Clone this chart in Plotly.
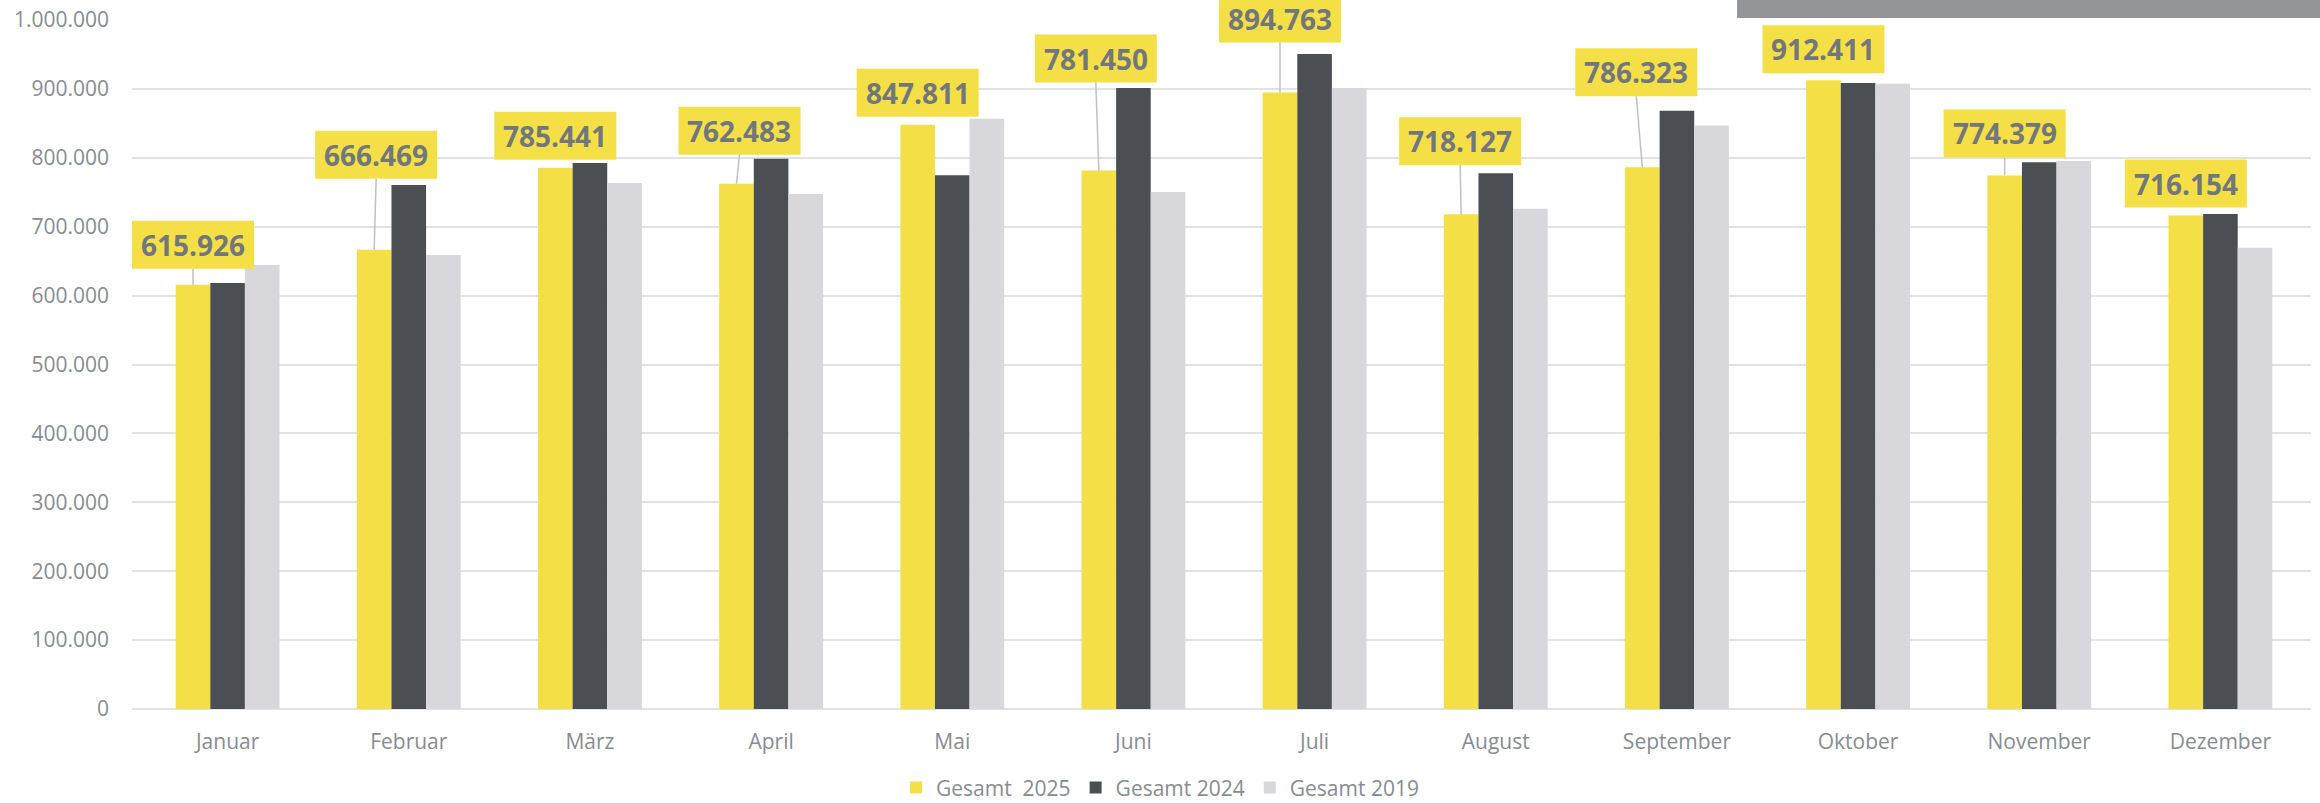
import plotly.graph_objects as go

months = ["Januar", "Februar", "März", "April", "Mai", "Juni", "Juli",
          "August", "September", "Oktober", "November", "Dezember"]
gesamt_2025 = [615926, 666469, 785441, 762483, 847811, 781450, 894763,
               718127, 786323, 912411, 774379, 716154]
gesamt_2024 = [618300, 760500, 792500, 798700, 774600, 901300, 950600,
               777500, 868400, 908600, 793400, 718400]
gesamt_2019 = [644400, 658900, 763400, 747500, 856800, 750400, 901300,
               726200, 846800, 907500, 795400, 669500]
labels_2025 = ["615.926", "666.469", "785.441", "762.483", "847.811", "781.450",
               "894.763", "718.127", "786.323", "912.411", "774.379", "716.154"]
y_ticks = [0, 100000, 200000, 300000, 400000, 500000, 600000, 700000,
           800000, 900000, 1000000]
y_tick_text = ["0", "100.000", "200.000", "300.000", "400.000", "500.000",
               "600.000", "700.000", "800.000", "900.000", "1.000.000"]
series_names = ["Gesamt \u00a02025", "Gesamt 2024", "Gesamt 2019"]

# label offsets (pixels, screen: +x right, +y down) from bar top to label centre
label_dx = [0, 2, 0, 3, 0, -3, 0, -1, -6, 0, 0, 0]
label_dy = [-40, -95, -32, -53, -32, -112, -74, -73, -95, -31, -42, -32]
leader = [True, True, False, True, False, True, True, True, True, False, True, False]

YELLOW = "#F4E046"
DARK = "#4B4F53"
LIGHT = "#D8D7DB"
TEXT_GREY = "#878C92"
LABEL_GREY = "#71777D"
FONT = "Open Sans"
BOX_W, BOX_H = 122, 48
Y_MAX = 1000000

BARGAP = 0.427

fig = go.Figure()
for name, vals, col in zip(series_names, [gesamt_2025, gesamt_2024, gesamt_2019],
                           [YELLOW, DARK, LIGHT]):
    fig.add_trace(go.Bar(x=months, y=vals, name=name, marker_color=col,
                         marker_line_width=0))

bar_w = (1 - BARGAP) / 3
# leader lines (y anchored in paper space so they are not clipped at the top)
for i, v in enumerate(gesamt_2025):
    if leader[i]:
        fig.add_shape(type="line", xref="x", yref="paper",
                      xsizemode="pixel", ysizemode="pixel",
                      xanchor=i - bar_w, yanchor=v / Y_MAX,
                      x0=0, y0=0, x1=label_dx[i], y1=-label_dy[i] - BOX_H / 2,
                      line=dict(color="#BFC1C4", width=1.5), layer="above")
# label boxes
for i, v in enumerate(gesamt_2025):
    fig.add_shape(type="rect", xref="x", yref="paper",
                  xsizemode="pixel", ysizemode="pixel",
                  xanchor=i - bar_w, yanchor=v / Y_MAX,
                  x0=label_dx[i] - BOX_W / 2, x1=label_dx[i] + BOX_W / 2,
                  y0=-label_dy[i] - BOX_H / 2, y1=-label_dy[i] + BOX_H / 2,
                  fillcolor=YELLOW, line_width=0, layer="above")
# label texts
for i, (v, lab) in enumerate(zip(gesamt_2025, labels_2025)):
    fig.add_annotation(
        x=i - bar_w, y=v, xref="x", yref="y",
        text=f"<b>{lab}</b>", showarrow=False,
        xanchor="center", yanchor="middle",
        xshift=label_dx[i], yshift=-label_dy[i],
        font=dict(family=FONT, size=28, color=LABEL_GREY),
    )

# grey strip at the top right
fig.add_shape(type="rect", xref="paper", yref="paper",
              x0=0.7366, x1=1.01, y0=1.0029, y1=1.04,
              fillcolor="#939598", line_width=0, layer="above")

fig.update_layout(
    width=2320, height=803,
    barmode="group", bargap=BARGAP, bargroupgap=0,
    plot_bgcolor="white", paper_bgcolor="white",
    margin=dict(l=132, r=9, t=20, b=94, autoexpand=False),
    font=dict(family=FONT, size=21, color=TEXT_GREY),
    showlegend=True,
    legend=dict(orientation="h", xref="container", yref="container",
                x=0.5, xanchor="center", y=0.019, yanchor="middle",
                font=dict(family=FONT, size=21, color=TEXT_GREY),
                traceorder="normal"),
    xaxis=dict(showgrid=False, showline=False, ticks="", automargin=False,
               tickfont=dict(family=FONT, size=21, color=TEXT_GREY),
               ticklabelstandoff=18),
    yaxis=dict(range=[0, Y_MAX], tickvals=y_ticks, ticktext=y_tick_text,
               automargin=False,
               showgrid=True, gridcolor="#E2E2E2", gridwidth=2,
               zeroline=True, zerolinecolor="#E2E2E2", zerolinewidth=2,
               showline=False, ticks="",
               tickfont=dict(family=FONT, size=21, color=TEXT_GREY),
               ticklabelstandoff=22),
)

fig.write_html(
    "out.html",
    config={"displayModeBar": False},
    post_script="document.body.style.margin='0';document.body.style.overflow='hidden';",
)
